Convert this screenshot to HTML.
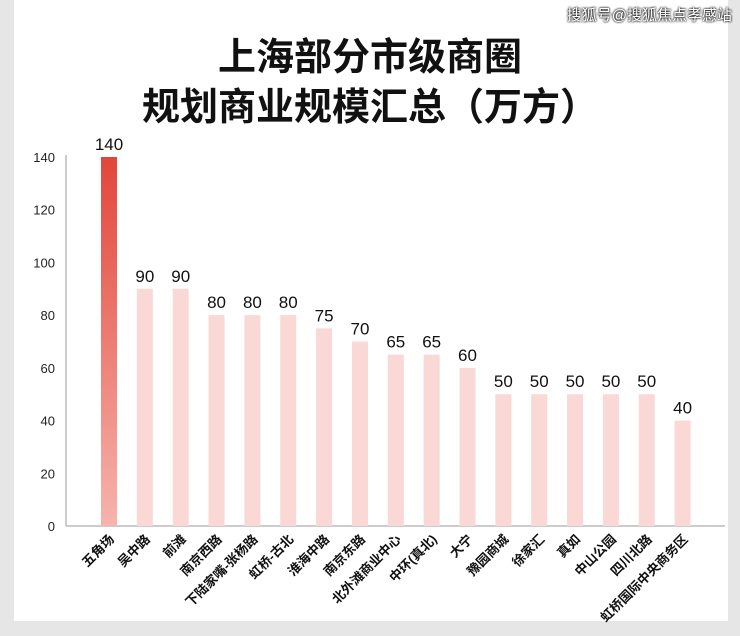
<!DOCTYPE html>
<html><head><meta charset="utf-8"><style>
body{margin:0;background:#e6e6e6;width:740px;height:636px;overflow:hidden;font-family:"Liberation Sans","Noto Sans CJK SC",sans-serif}
#card{position:absolute;left:14px;top:0;width:714px;height:621px;background:#fff}
.t{position:absolute;left:0;width:740px;text-align:center;font-weight:bold;font-size:38px;color:#111;font-family:"Liberation Sans","Noto Sans CJK SC",sans-serif}
#wm{position:absolute;right:8px;top:4px;font-size:15px;color:#fff;text-shadow:0 0 2px #000,0 0 2px #000}
svg{position:absolute;left:0;top:0}
</style></head><body>
<div id="card"></div>
<div class="t" style="top:26px">上海部分市级商圈</div>
<div class="t" style="top:76px">规划商业规模汇总（万方）</div>
<div id="wm">搜狐号@搜狐焦点孝感站</div>
<svg id="c" width="740" height="636">
<defs><linearGradient id="g" x1="0" y1="0" x2="0" y2="1"><stop offset="0" stop-color="#e2463a"/><stop offset="1" stop-color="#f6b4ad"/></linearGradient></defs>
</svg>
<script>
const categories=["五角场","吴中路","前滩","南京西路","下陆家嘴-张杨路","虹桥-古北","淮海中路","南京东路","北外滩商业中心","中环(真北)","大宁","豫园商城","徐家汇","真如","中山公园","四川北路","虹桥国际中央商务区"];
const values=[140,90,90,80,80,80,75,70,65,65,60,50,50,50,50,50,40];
const yTicks=[0,20,40,60,80,100,120,140];
const NS="http://www.w3.org/2000/svg",svg=document.getElementById('c');
const y0=526,yTop=157,x0=66,xEnd=725;
const y=v=>y0-(v/140)*(y0-yTop);
const x=i=>109+i*35.85;
function mk(t,a,txt){const e=document.createElementNS(NS,t);for(const k in a)e.setAttribute(k,a[k]);if(txt!=null)e.textContent=txt;svg.appendChild(e);return e;}
let e=mk('line',{x1:x0,y1:yTop-2,x2:x0,y2:y0,stroke:'#999','stroke-width':1});


e=mk('line',{x1:x0,y1:y0,x2:xEnd,y2:y0,stroke:'#999','stroke-width':1});


yTicks.forEach(t=>{
 const el=mk('text',{x:55,y:y(t)+5,'text-anchor':'end','font-size':13,fill:'#222'},t);
 
 
});
values.forEach((v,i)=>{
 const b=mk('rect',{x:x(i)-8,y:y(v),width:16,height:y0-y(v),fill:i===0?'url(#g)':'#f9d8d5'});
 
 
 const l=mk('text',{x:x(i),y:y(v)-7,'text-anchor':'middle','font-size':17,fill:'#111'},v);
 
 
 const c=mk('text',{x:x(i)+6,y:y0+14,'text-anchor':'end','font-size':13,'font-weight':'bold',fill:'#111',transform:`rotate(-45 ${x(i)+6} ${y0+14})`},categories[i]);
 
 
});
</script>
</body></html>
